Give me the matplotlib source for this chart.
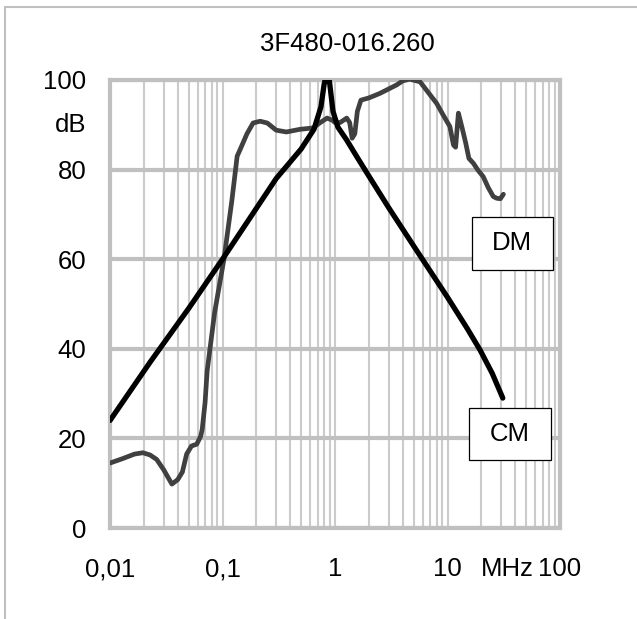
import matplotlib
matplotlib.use("Agg")
import matplotlib.pyplot as plt
from matplotlib.patches import Rectangle

plt.rcParams['font.family'] = ['Liberation Sans', 'DejaVu Sans']

# CM curve (black), frequency in MHz, attenuation in dB
cm_f = [0.01, 0.0227, 0.05, 0.1, 0.3, 0.5, 0.65, 0.75, 0.8, 0.85,
        0.88, 0.96, 1.06, 1.27, 1.57, 2.03, 3.0, 5.3, 10, 15, 19.5, 25, 31]
cm_db = [24, 37, 49, 60, 78, 84.6, 89, 94, 99, 102,
         101, 93, 89.5, 86.6, 82.8, 78.3, 71.5, 62, 51.5, 44.5, 39.7, 34.5, 29]

# DM curve (dark grey)
dm_f = [0.01, 0.013, 0.0165, 0.0196, 0.0227, 0.026, 0.03, 0.0355, 0.04, 0.044,
        0.048, 0.053, 0.059, 0.064, 0.066, 0.07, 0.073, 0.085, 0.103, 0.121,
        0.135, 0.143, 0.165, 0.187, 0.216, 0.25, 0.3, 0.37, 0.49, 0.64, 0.73,
        0.85, 0.95, 1.0, 1.11, 1.27, 1.35, 1.42, 1.5, 1.58, 1.7, 2.0, 2.5,
        3.0, 3.53, 4.0, 4.6, 5.7, 8.0, 9.0, 10.5, 11.3, 11.8, 12.5, 13.4,
        14.5, 15.5, 17, 18.5, 20.8, 23, 25.5, 27.4, 29.5, 31.4]
dm_db = [14.5, 15.5, 16.5, 16.8, 16.3, 15.3, 13, 9.8, 10.8, 12.5,
         16.5, 18.3, 18.7, 20.5, 22, 28, 35, 48, 60, 73,
         83, 84.4, 88, 90.4, 90.8, 90.4, 88.8, 88.4, 89, 89.3, 90.4,
         91.5, 91, 90.5, 90.5, 91.5, 90.5, 87, 88, 93, 95.5, 96, 97,
         98, 98.9, 99.8, 100.2, 99.6, 94.8, 92.5, 89.6, 85.5, 85, 92.6, 89.6,
         86, 82.5, 81.4, 80, 78.4, 76, 74, 73.6, 73.5, 74.5]

x_ticks = [0.01, 0.1, 1, 10, 100]
x_labels = ['0,01', '0,1', '1', '10', '100']
y_ticks = [0, 20, 40, 60, 80, 100]

fs = 18.5
grid_major = '#c0c0c0'
grid_minor = '#cbcbcb'

fig = plt.figure(figsize=(6.37, 6.19), dpi=100)
ax = fig.add_axes([110 / 637, 1 - 528 / 619, 450 / 637, 448 / 619])

ax.set_xscale('log')
ax.set_xlim(0.01, 100)
ax.set_ylim(0, 100)

ax.set_xticks(x_ticks)
ax.set_xticklabels(x_labels)
ax.set_yticks(y_ticks)
ax.tick_params(axis='both', which='both', length=0, labelsize=fs)
ax.tick_params(axis='y', pad=17)
ax.tick_params(axis='x', pad=21)
ax.xaxis.set_minor_formatter(matplotlib.ticker.NullFormatter())

ax.grid(axis='x', which='both', color=grid_minor, lw=1.5, zorder=0)
ax.grid(axis='y', which='major', color=grid_major, lw=3, zorder=0)
for s in ax.spines.values():
    s.set_color(grid_major)
    s.set_linewidth(3)
ax.set_axisbelow(True)

ax.plot(dm_f, dm_db, color='#404040', lw=3.4, solid_joinstyle='round',
        solid_capstyle='round', zorder=3)
ax.plot(cm_f, cm_db, color='black', lw=3.8, solid_joinstyle='round',
        solid_capstyle='round', zorder=4)

# labels in boxes
ax.add_patch(Rectangle((16.5, 57.6), 86.7 - 16.5, 69.4 - 57.6, facecolor='white',
                       edgecolor='black', lw=0.9, zorder=5))
ax.text(37.4, 63.6, 'DM', ha='center', va='center', fontsize=fs, zorder=6)
ax.add_patch(Rectangle((15.5, 15.2), 83.2 - 15.5, 26.8 - 15.2, facecolor='white',
                       edgecolor='black', lw=0.9, zorder=5))
ax.text(35.9, 21.0, 'CM', ha='center', va='center', fontsize=fs, zorder=6)

# units
ax.text(-24 / 450, 90, 'dB', transform=ax.get_yaxis_transform(), ha='right',
        va='center', fontsize=fs)
ax.text(33.8, -41 / 448, 'MHz', transform=ax.get_xaxis_transform(), ha='center',
        va='center', fontsize=fs)

fig.text(347 / 637, 1 - 44 / 619, '3F480-016.260', ha='center', va='center', fontsize=fs)

# chart area border
fig.patches.append(Rectangle((5 / 637, -0.2), 1.2, 1.2 - 7 / 619, transform=fig.transFigure,
                             fill=False, edgecolor='#c0c0c0', lw=1.5))

fig.savefig('out.png', dpi=100)
